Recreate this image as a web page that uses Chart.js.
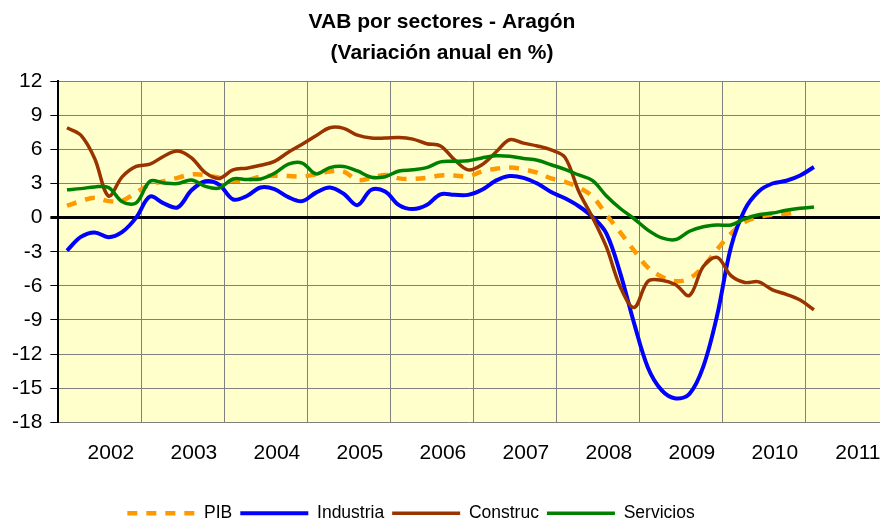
<!DOCTYPE html>
<html>
<head>
<meta charset="utf-8">
<script src="https://cdn.jsdelivr.net/npm/chart.js@4.4.0/dist/chart.umd.min.js"></script>
<style>
  html, body { margin: 0; padding: 0; background: #fff; }
  canvas { display: block; }
</style>
</head>
<body>
<canvas id="grafica" width="880" height="522"></canvas>
<script>
// VAB por sectores - Aragón, variación anual (%), datos leídos cada 2 meses
const anios = ['2002', '2003', '2004', '2005', '2006', '2007', '2008', '2009', '2010', '2011'];
const ticksY = [-18, -15, -12, -9, -6, -3, 0, 3, 6, 9, 12];

const pib = [1.05, 1.45, 1.75, 1.45, 1.5, 2.2, 2.9, 3.2, 3.5, 3.8, 3.75, 3.5, 3.25, 3.3, 3.6, 3.68, 3.65, 3.62, 3.8, 4.05,
  4.05, 3.3, 3.5, 3.75, 3.45, 3.4, 3.5, 3.7, 3.7, 3.62, 4.05, 4.3, 4.4, 4.25, 3.95, 3.45, 3.15, 2.65, 1.85, 0.25,
  -1.3, -2.9, -4.4, -5.2, -5.6, -5.35, -4.3, -2.8, -1.4, -0.4, 0.05, 0.25, 0.35, 0.44, null];
const industria = [-2.9, -1.7, -1.3, -1.72, -1.25, 0.0, 1.85, 1.25, 0.9, 2.4, 3.2, 2.9, 1.6, 1.9, 2.65, 2.5, 1.8, 1.45, 2.2, 2.65,
  2.1, 1.1, 2.45, 2.3, 1.1, 0.75, 1.1, 2.05, 2.0, 2.0, 2.45, 3.25, 3.65, 3.5, 3.0, 2.25, 1.7, 1.0, 0.05, -1.4,
  -4.9, -9.3, -13.2, -15.2, -15.9, -15.5, -13.1, -8.6, -2.6, 0.7, 2.3, 3.0, 3.24, 3.7, 4.45];
const construc = [7.9, 7.25, 5.2, 1.9, 3.6, 4.5, 4.7, 5.4, 5.85, 5.25, 3.95, 3.45, 4.2, 4.35, 4.6, 4.95, 5.75, 6.45, 7.2, 7.9,
  7.85, 7.25, 7.0, 7.0, 7.05, 6.9, 6.5, 6.3, 5.1, 4.2, 4.65, 5.75, 6.85, 6.55, 6.3, 5.95, 5.3, 2.3, 0.0, -2.6,
  -6.1, -7.9, -5.6, -5.5, -5.9, -6.85, -4.3, -3.5, -5.1, -5.7, -5.65, -6.35, -6.75, -7.25, -8.1];
const servicios = [2.45, 2.55, 2.7, 2.65, 1.4, 1.3, 3.2, 3.05, 3.0, 3.3, 2.75, 2.6, 3.4, 3.35, 3.4, 3.9, 4.7, 4.8, 3.85, 4.4,
  4.5, 4.1, 3.55, 3.6, 4.1, 4.2, 4.4, 4.9, 4.95, 5.0, 5.25, 5.44, 5.4, 5.2, 5.05, 4.65, 4.25, 3.75, 3.25, 1.9,
  0.8, -0.1, -1.1, -1.78, -1.93, -1.2, -0.8, -0.65, -0.65, -0.1, 0.25, 0.4, 0.65, 0.82, 0.93];

// posición de cada dato en meses desde el borde izquierdo del gráfico
const meses = pib.map((_, i) => 1.25 + 2 * i);
const puntos = serie => serie.map((v, i) => ({ x: meses[i], y: v }));

const MAX_X = 118.8;
const FUENTE = 'Liberation Sans, Arial, sans-serif';

const fondoAmarillo = {
  id: 'fondoAmarillo',
  beforeDraw(chart) {
    const { ctx, chartArea: a } = chart;
    ctx.save();
    ctx.fillStyle = '#FFFFCC';
    ctx.fillRect(a.left, a.top, a.right - a.left, a.bottom - a.top);
    ctx.restore();
  },
  afterLayout(chart) {
    // la leyenda del original queda algo a la izquierda y más abajo
    if (chart.legend) {
      chart.legend.left -= 62;
      chart.legend.top += 20;
      chart.legend.bottom += 20;
    }
  }
};

const linea = (label, data, color, width, order, extra) => Object.assign({
  label,
  data: puntos(data),
  borderColor: color,
  backgroundColor: color,
  borderWidth: width,
  pointRadius: 0,
  tension: 0.35,
  fill: false,
  order
}, extra || {});

new Chart(document.getElementById('grafica'), {
  type: 'line',
  data: {
    datasets: [
      linea('PIB', pib, '#FF9900', 4.5, 4, { borderDash: [10, 9], borderCapStyle: 'butt' }),
      linea('Industria', industria, '#0000FF', 4, 3),
      linea('Construc', construc, '#993300', 3.5, 2),
      linea('Servicios', servicios, '#008000', 3.5, 1)
    ]
  },
  options: {
    responsive: false,
    animation: false,
    layout: { padding: { left: 4, right: 0, top: 0, bottom: 10 } },
    plugins: {
      title: {
        display: true,
        text: ['VAB por sectores - Aragón', '(Variación anual en %)'],
        color: '#000',
        font: { family: FUENTE, size: 21, weight: 'bold', lineHeight: 1.48 },
        padding: { top: 7, bottom: 12 }
      },
      legend: {
        position: 'bottom',
        labels: {
          usePointStyle: true,
          pointStyle: 'line',
          pointStyleWidth: 68,
          boxWidth: 68,
          boxHeight: 18,
          padding: 8,
          color: '#000',
          font: { family: FUENTE, size: 17.5 },
          sort: (a, b) => a.datasetIndex - b.datasetIndex,
          generateLabels: chart => Chart.defaults.plugins.legend.labels.generateLabels(chart).map(l => {
            const ds = chart.data.datasets[l.datasetIndex];
            return Object.assign(l, { lineDash: ds.borderDash || [], lineWidth: ds.borderWidth, strokeStyle: ds.borderColor, lineCap: 'butt' });
          })
        }
      },
      tooltip: { enabled: false }
    },
    scales: {
      x: {
        type: 'linear',
        position: 'bottom',
        min: 0,
        max: MAX_X,
        afterBuildTicks: axis => { axis.ticks = anios.map((_, i) => ({ value: 7.6 + 12 * i })); },
        afterFit: axis => { axis.paddingRight = 0; axis.paddingLeft = 0; },
        ticks: {
          color: '#000',
          padding: 10.5,
          maxRotation: 0,
          autoSkip: false,
          font: { family: FUENTE, size: 21 },
          callback: v => anios[Math.round((v - 7.6) / 12)]
        },
        grid: { display: false },
        border: { display: false }
      },
      xGrid: {
        type: 'linear',
        position: 'top',
        min: 0,
        max: MAX_X,
        afterBuildTicks: axis => { axis.ticks = [12, 24, 36, 48, 60, 72, 84, 96, 108].map(v => ({ value: v })); },
        ticks: { display: false },
        grid: { color: '#808080', lineWidth: 1, drawTicks: false },
        border: { display: false }
      },
      y: {
        min: -18,
        max: 12,
        afterBuildTicks: axis => { axis.ticks = ticksY.map(v => ({ value: v })); },
        ticks: {
          color: '#000',
          padding: 8,
          font: { family: FUENTE, size: 21 }
        },
        grid: {
          color: c => (c.tick && c.tick.value === 0 ? '#000' : '#808080'),
          lineWidth: c => (c.tick && c.tick.value === 0 ? 3 : 1),
          tickColor: '#000',
          tickLength: 8
        },
        border: { color: '#000', width: 2 }
      }
    }
  },
  plugins: [fondoAmarillo]
});
</script>
</body>
</html>
